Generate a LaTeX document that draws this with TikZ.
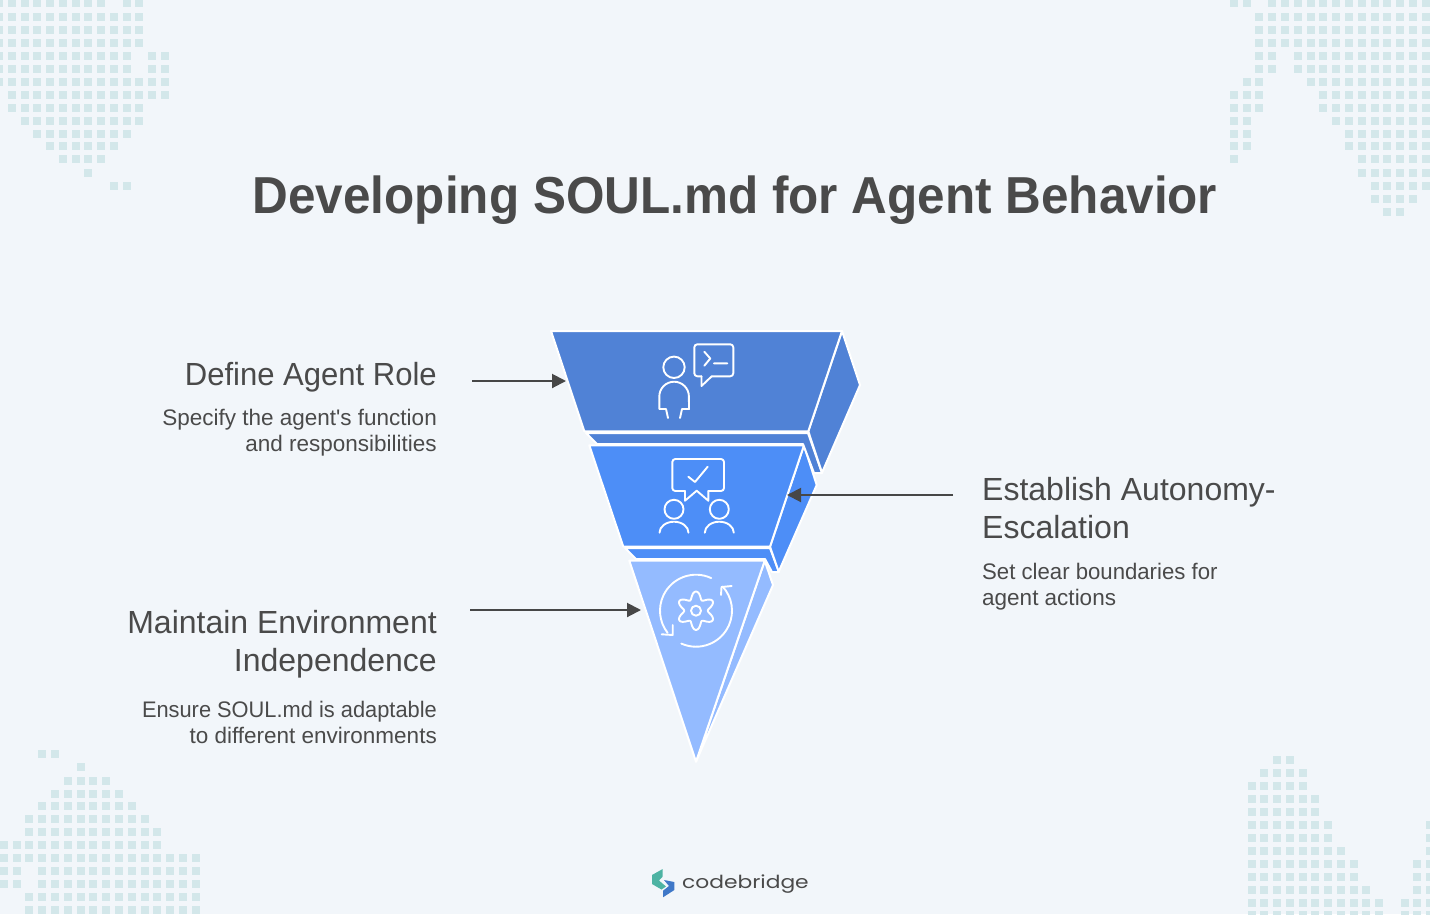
\documentclass[tikz,border=0pt]{standalone}
\usepackage{graphicx}
\usepackage{fontspec}
\setmainfont{Liberation Sans}
\newfontfamily\logofont{Poppins}
\usetikzlibrary{arrows.meta, positioning}
\definecolor{pagebg}{HTML}{F2F6FA}
\definecolor{dotcol}{HTML}{D3E7EA}
\definecolor{inktext}{HTML}{4A4A4A}
\definecolor{inkarrow}{HTML}{474747}
\definecolor{tierone}{HTML}{5082D6}
\definecolor{tiertwo}{HTML}{4D8EF7}
\definecolor{tierthree}{HTML}{94BBFF}
\definecolor{logoteal}{HTML}{4DB3A3}
\definecolor{logoblue}{HTML}{3F78C8}
\tikzset{
	dotcell/.style={fill=dotcol, draw=none},
	face/.style={draw=white, line width=2pt, line join=round},
	glyph/.style={draw=white, line width=1.9pt, line cap=round, line join=round},
	pointer/.style={draw=inkarrow, line width=2pt, -{Triangle[length=14pt,width=14pt]}},
	headtext/.style={inner sep=0pt, text=inktext, font=\fontsize{32}{38}\selectfont},
	subtext/.style={inner sep=0pt, text=inktext, font=\fontsize{22.5}{25.5}\selectfont},
}
\newcommand{\dotrows}[4]{% x0, dx, row list
	\foreach \rowy/\cols in {#4}
		\foreach \c in \cols
			\fill[dotcell] ({#1+#2*\c-4},\rowy-4) rectangle +(8pt,-8pt);
}
\begin{document}
\begin{tikzpicture}[x=1pt,y=-1pt]
	\useasboundingbox (0,0) rectangle (1430,914);
	\fill[pagebg] (0,0) rectangle (1430,914);

	% corner dots
	\begin{scope}
		\clip (0,0) rectangle (1430,914);
		\dotrows{-1}{12.75}{}{3/{0,...,8,10,11}, 17/{0,...,11}, 29.5/{0,...,11}, 43/{0,...,11},
			55.5/{0,...,10,12,13}, 68.5/{0,...,10,12,13}, 82/{0,...,13}, 95/{1,...,13},
			107.5/{1,...,11}, 120.5/{2,...,11}, 133.5/{3,...,10}, 146/{4,...,9},
			159/{5,...,8}, 173/{7}, 186/{9,10}}
		\dotrows{1233.7}{12.8}{}{3/{0,1,3,4,...,15}, 17/{2,...,15}, 30/{2,...,15}, 43/{2,...,15},
			56/{2,3,5,6,...,15}, 69/{2,3,5,6,...,15}, 82/{1,2,6,7,...,15}, 95/{0,1,2,7,8,...,15},
			107.5/{0,1,2,7,8,...,15}, 120.5/{0,1,8,9,...,15}, 133.5/{0,1,9,10,...,15},
			146/{0,1,9,10,...,15}, 159/{0,10,11,...,15}, 173/{10,...,15}, 186/{11,...,15},
			199/{11,...,14}, 212/{12,13}}
		\dotrows{3.7}{12.8}{}{754/{3,4}, 767/{6}, 781/{5,...,8}, 793.5/{4,...,9}, 806/{3,...,10},
			819/{2,...,11}, 832/{2,...,12}, 845/{0,...,12}, 858/{0,...,15},
			871/{0,1,3,4,...,15}, 884/{0,1,3,4,...,15}, 897/{2,...,15}, 910/{2,...,15}}
		\dotrows{1251.7}{12.75}{}{760/{2,3}, 773/{1,...,4}, 786/{0,...,4}, 799/{0,...,5}, 812/{0,...,5},
			825/{0,...,6,14}, 838/{0,...,6,14}, 851/{0,...,7,14}, 864/{0,...,8,13,14},
			877/{0,...,8,13,14}, 890/{0,...,9,13,14}, 903/{0,...,10,12,13,14}, 915/{0,...,10,12,13,14}}
	\end{scope}

	\node[inner sep=0pt, text=inktext, anchor=base] (title) at (735,213)
		{\scalebox{0.951}[1]{\fontsize{52}{60}\selectfont\bfseries Developing SOUL.md for Agent Behavior}};

	% funnel, lowest tier first
	\path[face, fill=tierthree] (764.7,560.7) -- (773,585) -- (696,761.7) -- cycle;
	\path[face, fill=tierthree] (629.3,560.7) -- (764.7,560.7) -- (696,761.7) -- cycle;

	\path[face, fill=tiertwo] (625,548) -- (770,548) -- (779,572) -- (772,572) -- (765,559) -- (636,559) -- cycle;
	\path[face, fill=tiertwo] (804,445.3) -- (816.7,485) -- (778.7,571.7) -- (770,546.7) -- cycle;
	\path[face, fill=tiertwo] (589.3,445.3) -- (804,445.3) -- (770,546.7) -- (623.3,546.7) -- cycle;

	\path[face, fill=tierone] (586,433) -- (808,433) -- (822,473) -- (814,473) -- (803,444) -- (597,444) -- cycle;
	\path[face, fill=tierone] (842,331) -- (860,385) -- (822,472.7) -- (808.3,431.3) -- cycle;
	\path[face, fill=tierone] (551,331) -- (842,331) -- (808.3,431.3) -- (584.3,431.3) -- cycle;

	% person with prompt bubble
	\draw[glyph] (674,367.3) circle (10.7pt);
	\draw[glyph] (668,418) -- (666,409) -- (659.3,409) -- (659.3,396.5) arc (180:0:14.8pt) -- (689,409) -- (682,409) -- (680,418);
	\draw[glyph, rounded corners=3pt] (701.5,376.3) -- (694.3,376.3) -- (694.3,344.3) -- (733.3,344.3) -- (733.3,376.3) -- (711.7,376.3);
	\draw[glyph] (701.5,376.3) -- (701.5,386) -- (711.7,376.3);
	\draw[glyph] (704.3,351.7) -- (710.3,358.5) -- (704.3,365.7) (714,363.3) -- (727.3,363.3);

	% two people with tick bubble
	\draw[glyph, rounded corners=3pt] (685,491) -- (672.3,491) -- (672.3,459) -- (724,459) -- (724,491) -- (708.3,491);
	\draw[glyph] (685,491) -- (685,500.7) -- (696.7,490.7) -- (708.3,500.7) -- (708.3,491);
	\draw[glyph] (688.3,476.7) -- (695,482) -- (707.7,466.7);
	\foreach \px in {674,719.3} {
		\draw[glyph] (\px,509.3) circle (9.5pt);
		\draw[glyph] (\px-14.5,532.7) arc[start angle=180, end angle=0, x radius=14.5pt, y radius=11pt];
	}

	% gear with cycle arrows
	\draw[glyph] (696,610.7) ++(65:36pt) arc (65:218:36pt);
	\draw[glyph] (661.7,634.3) -- (672.7,635) -- (672.7,625);
	\draw[glyph] (696,610.7) ++(246:36pt) arc (246:402:36pt);
	\draw[glyph] (731.7,586) -- (721.5,587) -- (721,595);
	\draw[glyph] (696,610.7) circle (5pt);
	\draw[glyph] plot[smooth cycle, samples=72, domain=0:355] ({696+(15.5+3.8*cos(6*\x))*sin(\x)},{610.7-(15.5+3.8*cos(6*\x))*cos(\x)});

	% labels
	\node[headtext, anchor=base east] (rolehead) at (437,385) {\scalebox{0.97}[1]{Define Agent Role}};
	\node[subtext, anchor=base east, align=right] (rolesub) at (437,451) {Specify the agent\textquotesingle s function\\and responsibilities};
	\node[headtext, anchor=base west, align=left] (autohead) at (982,538) {Establish Autonomy-\\Escalation};
	\node[subtext, anchor=base west, align=left] (autosub) at (982,605) {\scalebox{0.985}[1]{Set clear boundaries for}\\agent actions};
	\node[headtext, anchor=base east, align=right] (envhead) at (437,671) {Maintain Environment\\Independence};
	\node[subtext, anchor=base east, align=right] (envsub) at (437,743) {\scalebox{0.97}[1]{Ensure SOUL.md is adaptable}\\to different environments};

	% pointers
	\coordinate (rolefrom) at (472,381);
	\coordinate (roleto) at (566,381);
	\coordinate (autofrom) at (953,495);
	\coordinate (autoto) at (787,495);
	\coordinate (envfrom) at (470,610);
	\coordinate (envto) at (641,610);
	\draw[pointer] (rolefrom) -- (roleto);
	\draw[pointer] (autofrom) -- (autoto);
	\draw[pointer] (envfrom) -- (envto);

	% logo
	\fill[logoteal] (662.7,869) -- (652,875) -- (652,884) -- (661.5,889.5) -- (666,886.5) -- (659,880.5) -- (662.7,876.5) -- cycle;
	\fill[logoblue] (664,880) -- (674.3,882) -- (674.3,890) -- (663,897.3) -- (663,890.7) -- (669,886) -- cycle;
	\node[inner sep=0pt, text=inktext, anchor=base west] (logoname) at (682,888)
		{\scalebox{1.21}[1]{\logofont\fontsize{18}{20}\selectfont codebridge}};
\end{tikzpicture}
\end{document}
